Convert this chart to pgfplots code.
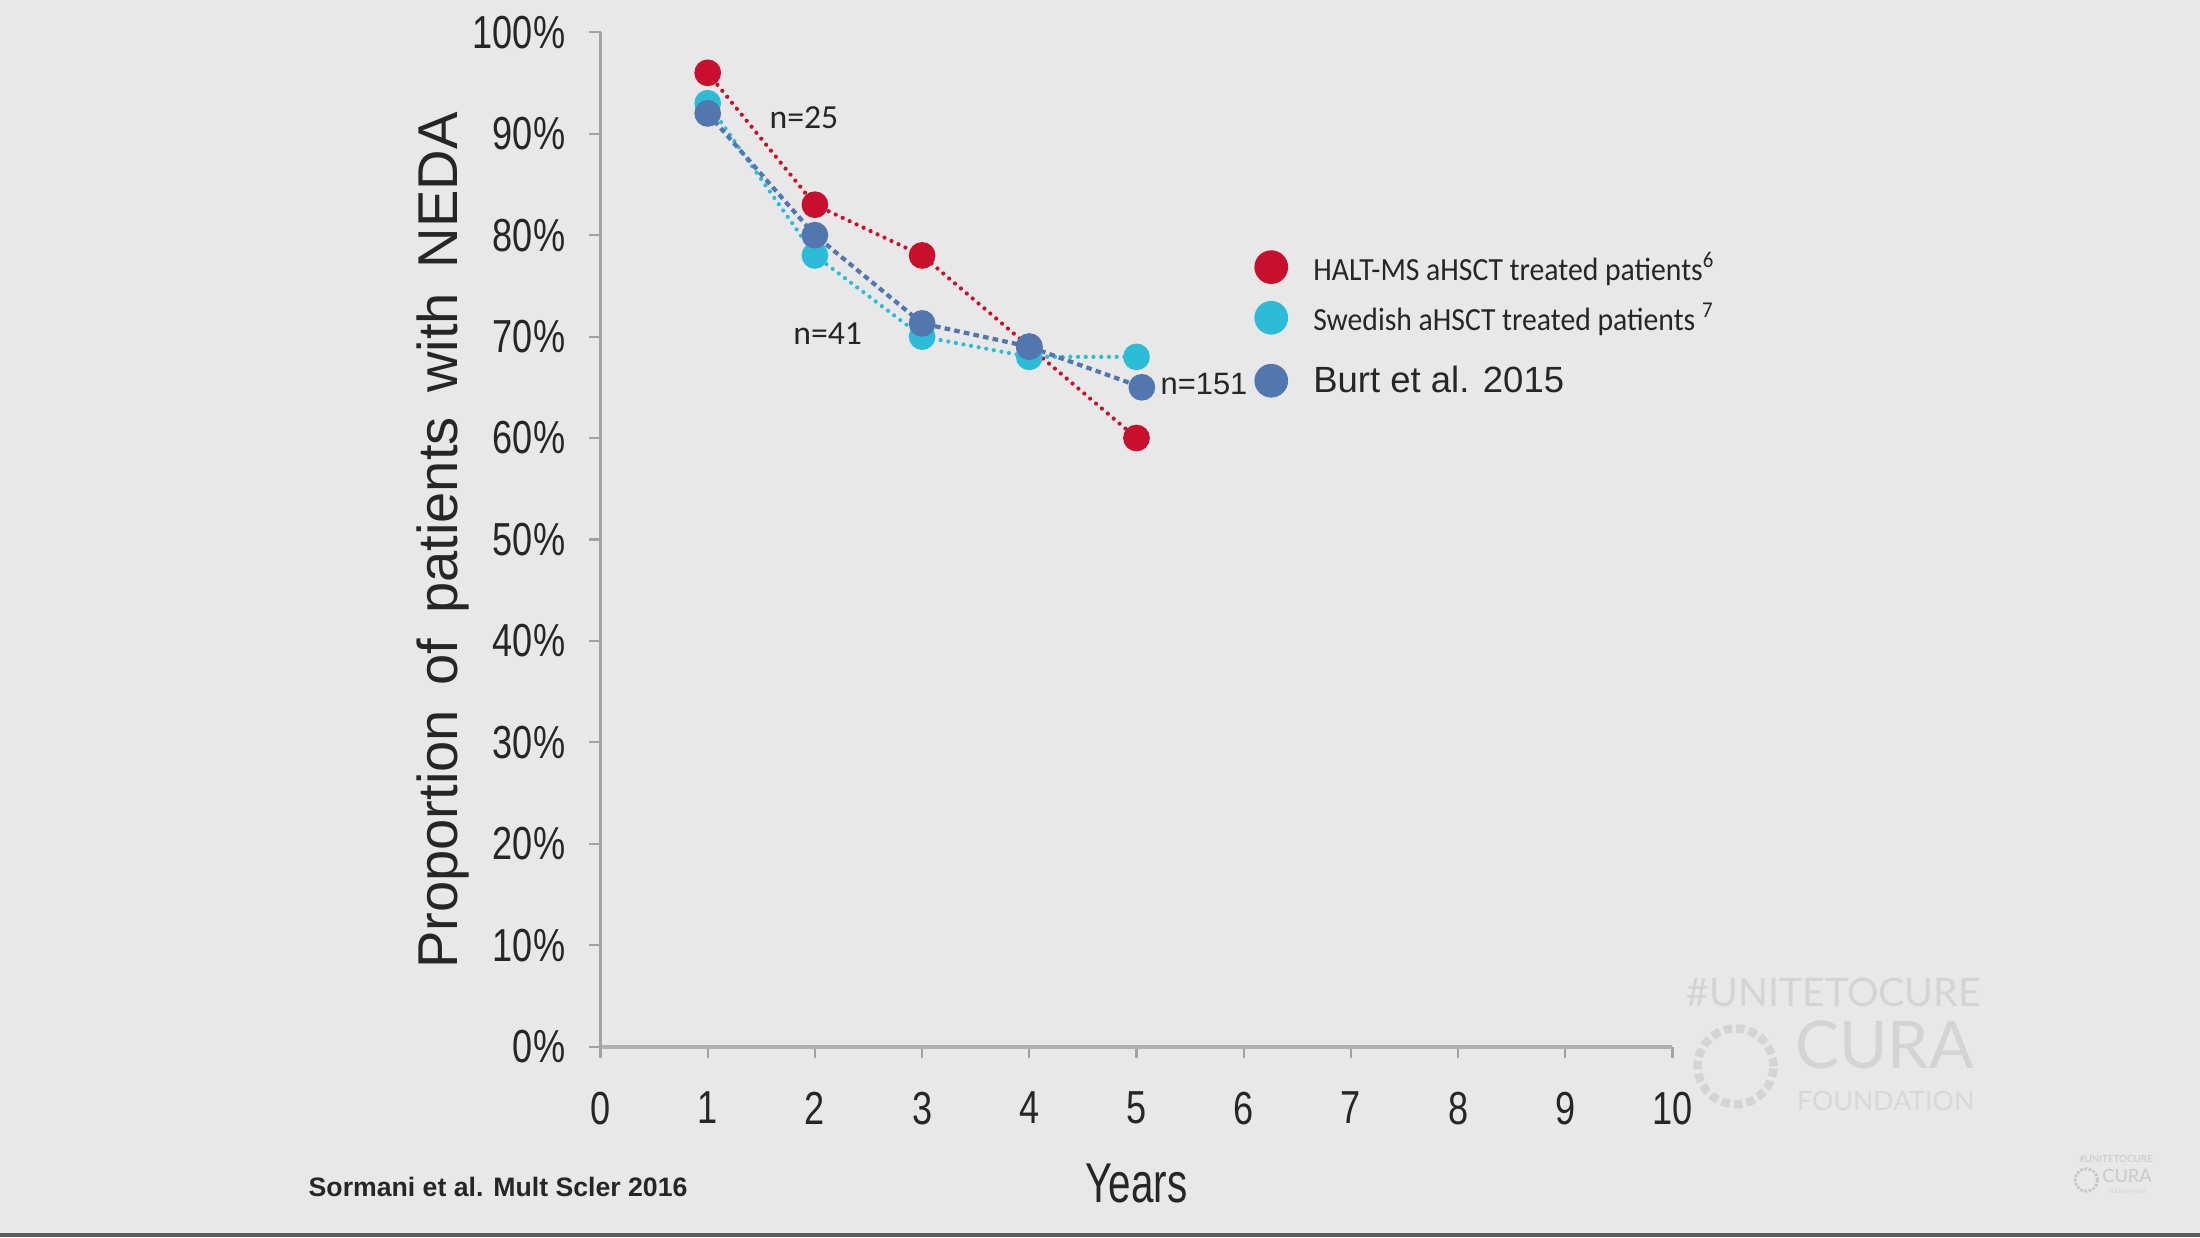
\documentclass[border=0pt]{standalone}
\usepackage{fontspec}
\setmainfont{Liberation Sans}
\newfontfamily\narrowfont[FakeStretch=0.78]{Liberation Sans}
\newfontfamily\yearsfont[FakeStretch=0.72]{Liberation Sans}
\newfontfamily\carlito{Carlito}
\newfontfamily\carlitonarrow[FakeStretch=0.92]{Carlito}
\newfontfamily\lato{Lato}
\usepackage{pgfplots}
\pgfplotsset{compat=1.18}
\definecolor{bg}{HTML}{E8E8E8}
\definecolor{halt}{HTML}{C8102E}
\definecolor{swed}{HTML}{2CBCD8}
\definecolor{burt}{HTML}{5277AE}
\definecolor{axgray}{HTML}{A2A2A2}
\definecolor{wm}{HTML}{D4D4D4}
\definecolor{txt}{HTML}{262626}
\begin{document}
\begin{tikzpicture}
\useasboundingbox (0,0) rectangle (1568bp,882bp);
\fill[bg] (0,0) rectangle (1568bp,882bp);
\fill[black!65] (0,0) rectangle (1568bp,3bp);
\begin{axis}[
  at={(428bp,136bp)}, anchor=south west,
  scale only axis, width=764bp, height=723bp,
  xmin=0, xmax=10, ymin=0, ymax=100,
  clip=false,
  axis x line=bottom, axis y line=left,
  axis line style={-},
  x axis line style={line width=3bp, color=axgray!85},
  y axis line style={line width=1.5bp, color=axgray},
  xtick={0,1,2,3,4,5,6,7,8,9,10},
  xticklabels={0,1,2,3,4,5,6,7,8,9,10},
  ytick={0,10,20,30,40,50,60,70,80,90,100},
  yticklabels={0\%,10\%,20\%,30\%,40\%,50\%,60\%,70\%,80\%,90\%,100\%},
  tick align=outside, major tick length=8bp,
  tick style={line width=1.5bp, color=axgray},
  ticklabel style={font=\narrowfont\fontsize{33bp}{33bp}\selectfont, text=txt, inner sep=0pt},
  yticklabel style={anchor=east, xshift=-17bp},
  xticklabel style={anchor=north, yshift=-24bp},
  xlabel={Years},
  xlabel style={font=\yearsfont\fontsize{40bp}{40bp}\selectfont, text=txt, at={(axis description cs:0.5,-0.1535)}, anchor=base, inner sep=0pt},
  ylabel={Proportion\hspace{6.5bp} of\hspace{6.5bp} patients\hspace{6.5bp} with\hspace{6.5bp} NEDA},
  ylabel style={font=\fontsize{40bp}{40bp}\selectfont, text=txt, at={(axis description cs:-0.1335,0.499)}, anchor=base, inner sep=0pt},
  legend cell align=left,
  legend style={at={(0.61,0.786)}, anchor=north west, draw=none, fill=none, inner sep=0pt, outer sep=0pt, row sep=11bp, column sep=16bp, text=txt},
]
\addplot[halt, line width=3bp, line cap=round, dash pattern=on 0bp off 5.5bp,
  mark=*, mark size=8bp, mark options={solid, fill=halt, draw=none},
  legend image code/.code={\fill[halt, solid, draw=none] (0bp,0bp) circle[radius=12bp];}]
  coordinates {(1,96) (2,83) (3,78) (4,69) (5,60)};
\addlegendentry{\carlitonarrow\fontsize{23bp}{23bp}\selectfont HALT-MS aHSCT treated patients\textsuperscript{6}}
\addplot[swed, line width=3bp, line cap=round, dash pattern=on 0bp off 5.5bp,
  mark=*, mark size=8bp, mark options={solid, fill=swed, draw=none},
  legend image code/.code={\fill[swed, solid, draw=none] (0bp,0bp) circle[radius=12bp];}]
  coordinates {(1,93) (2,78) (3,70) (4,68) (5,68)};
\addlegendentry{\carlitonarrow\fontsize{23bp}{23bp}\selectfont Swedish aHSCT treated patients \textsuperscript{7}}
\addplot[burt, line width=3bp, dash pattern=on 4bp off 3bp,
  mark=*, mark size=8bp, mark options={solid, fill=burt, draw=none},
  legend image code/.code={\path (0bp,20bp); \fill[burt, solid, draw=none] (0bp,0bp) circle[radius=12bp];}]
  coordinates {(1,92) (2,80) (3,71.3) (4,69) (5.05,65)};
\addlegendentry{\fontsize{26bp}{26bp}\selectfont Burt et al. 2015}
\node[font=\carlito\fontsize{24bp}{24bp}\selectfont, text=txt] at (axis cs:1.898,91.56) {n=25};
\node[font=\carlito\fontsize{24bp}{24bp}\selectfont, text=txt] at (axis cs:2.12,70.26) {n=41};
\node[font=\fontsize{22bp}{22bp}\selectfont, text=txt] at (axis cs:5.63,65.3) {n=151};
\end{axis}
\node[font=\bfseries\fontsize{19bp}{19bp}\selectfont, text=txt] at (355bp,36bp) {Sormani et al. Mult Scler 2016};
% watermark
\node[font=\lato\fontsize{28bp}{28bp}\selectfont, text=wm] at (1307bp,175bp) {\#UNITETOCURE};
\node[font=\lato\fontsize{47bp}{47bp}\selectfont, text=wm] at (1343bp,137bp) {CURA};
\node[font=\lato\fontsize{19bp}{19bp}\selectfont, text=wm!80!bg] at (1344bp,97bp) {FOUNDATION};
\draw[wm, line width=6bp, dash pattern=on 6bp off 3bp] (1237bp,122bp) circle[radius=27bp];
\node[font=\lato\fontsize{7bp}{7bp}\selectfont, text=wm!95!black] at (1508bp,56bp) {\#UNITETOCURE};
\node[font=\lato\fontsize{13bp}{13bp}\selectfont, text=wm!95!black] at (1516bp,44bp) {CURA};
\node[font=\lato\fontsize{4bp}{4bp}\selectfont, text=wm] at (1516bp,33bp) {FOUNDATION};
\draw[wm!95!black, line width=2bp, dash pattern=on 2bp off 1bp] (1487bp,41bp) circle[radius=8bp];
\end{tikzpicture}
\end{document}
